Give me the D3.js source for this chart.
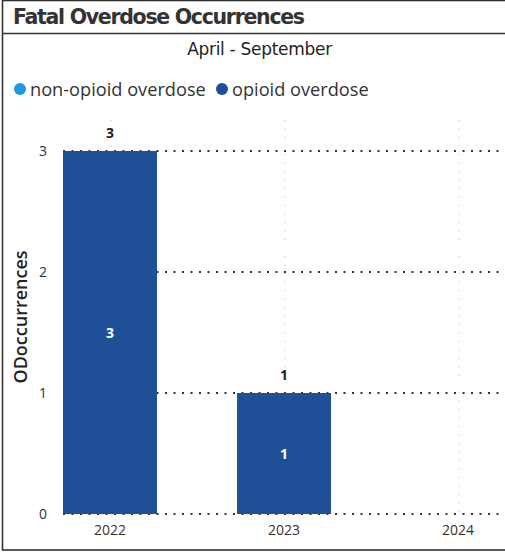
<!DOCTYPE html>
<html>
<head>
<meta charset="utf-8">
<script src="https://cdn.jsdelivr.net/npm/d3@7"></script>
<style>
  html, body { margin: 0; padding: 0; background: #fff; }
  svg { display: block; }
</style>
</head>
<body>
<svg id="chart" width="505" height="552"></svg>
<script>
const categories = ["2022", "2023", "2024"];
const opioidValues = [3, 1, null];
const nonOpioidValues = [null, null, null];
const yTicks = [0, 1, 2, 3];
const legendLabels = ["non-opioid overdose", "opioid overdose"];
const legendColors = ["#1a9be3", "#1e4f97"];
const titleText = "Fatal Overdose Occurrences";
const subtitleText = "April - September";
const yAxisTitle = "ODoccurrences";

const svg = d3.select("#chart");
const W = 505, H = 552;

// frame
svg.append("rect").attr("x", 2.5).attr("y", 0.5).attr("width", W + 10).attr("height", H - 2.5)
  .attr("fill", "none").attr("stroke", "#333").attr("stroke-width", 1.6);
svg.append("line").attr("x1", 2).attr("x2", W).attr("y1", 33.5).attr("y2", 33.5)
  .attr("stroke", "#333").attr("stroke-width", 1.6);

svg.append("text").attr("x", 13).attr("y", 24)
  .attr("font-family", "DejaVu Sans, Verdana, sans-serif").attr("font-weight", "bold")
  .attr("font-size", 20.5).attr("fill", "#333").attr("letter-spacing", -1.3)
  .text(titleText);

svg.append("text").attr("x", 259.5).attr("y", 55).attr("text-anchor", "middle")
  .attr("font-family", "DejaVu Sans, Verdana, sans-serif")
  .attr("font-size", 17).attr("fill", "#222").attr("letter-spacing", -0.3)
  .text(subtitleText);

// legend
const legend = svg.append("g").attr("font-family", "Open Sans, Noto Sans, sans-serif")
  .attr("font-size", 18.2).attr("fill", "#333");
const legX = [20, 222];
legendLabels.forEach((l, i) => {
  legend.append("circle").attr("cx", legX[i]).attr("cy", 89).attr("r", 6).attr("fill", legendColors[i]);
  legend.append("text").attr("x", legX[i] + 10).attr("y", 95.5).text(l);
});

// scales
const x = d3.scaleBand().domain(categories).range([63, 505]).paddingInner(0.46).paddingOuter(0);
const y = d3.scaleLinear().domain([0, 3]).range([514, 151]);

// vertical faint gridlines
svg.append("g").selectAll("line").data(categories).join("line")
  .attr("x1", d => x(d) + x.bandwidth() / 2 + 1).attr("x2", d => x(d) + x.bandwidth() / 2 + 1)
  .attr("y1", 120).attr("y2", 516)
  .attr("stroke", "#bbb").attr("stroke-width", 1).attr("stroke-dasharray", "1 7.5");

// horizontal dotted gridlines
svg.append("g").selectAll("line").data(yTicks).join("line")
  .attr("x1", 63).attr("x2", 505).attr("y1", d => y(d)).attr("y2", d => y(d))
  .attr("stroke", "#333").attr("stroke-width", 2).attr("stroke-dasharray", "2 6.5");

// y axis
const yAxis = d3.axisLeft(y).tickValues(yTicks).tickFormat(d3.format("d")).tickSize(0).tickPadding(16);
const yg = svg.append("g").attr("transform", "translate(63,0)").call(yAxis);
yg.select(".domain").remove();
yg.selectAll("text").attr("font-family", "Open Sans, Noto Sans, sans-serif").attr("font-size", 14).attr("fill", "#333");

// x axis
const xAxis = d3.axisBottom(x).tickSize(0).tickPadding(11);
const xg = svg.append("g").attr("transform", "translate(0,514)").call(xAxis);
xg.select(".domain").remove();
xg.selectAll("text").attr("font-family", "Open Sans, Noto Sans, sans-serif").attr("font-size", 14).attr("fill", "#333");

// y axis title
svg.append("text").attr("transform", "translate(27,317) rotate(-90)").attr("text-anchor", "middle")
  .attr("font-family", "Open Sans, Noto Sans, sans-serif").attr("font-weight", 600)
  .attr("font-size", 18).attr("fill", "#222").text(yAxisTitle);

// bars
const data = categories.map((c, i) => ({ c, v: opioidValues[i] })).filter(d => d.v != null);
svg.append("g").selectAll("rect").data(data).join("rect")
  .attr("x", d => x(d.c)).attr("width", x.bandwidth())
  .attr("y", d => y(d.v)).attr("height", d => y(0) - y(d.v))
  .attr("fill", legendColors[1]);

// total labels
svg.append("g").selectAll("text").data(data).join("text")
  .attr("x", d => x(d.c) + x.bandwidth() / 2).attr("y", d => y(d.v) - 13)
  .attr("text-anchor", "middle").attr("font-family", "Open Sans, Noto Sans, sans-serif")
  .attr("font-weight", "bold").attr("font-size", 14).attr("fill", "#222").text(d => d.v);

// inside labels
svg.append("g").selectAll("text").data(data).join("text")
  .attr("x", d => x(d.c) + x.bandwidth() / 2).attr("y", d => (y(d.v) + y(0)) / 2 + 5)
  .attr("text-anchor", "middle").attr("font-family", "Open Sans, Noto Sans, sans-serif")
  .attr("font-weight", "bold").attr("font-size", 14).attr("fill", "#fff").text(d => d.v);
</script>
</body>
</html>
